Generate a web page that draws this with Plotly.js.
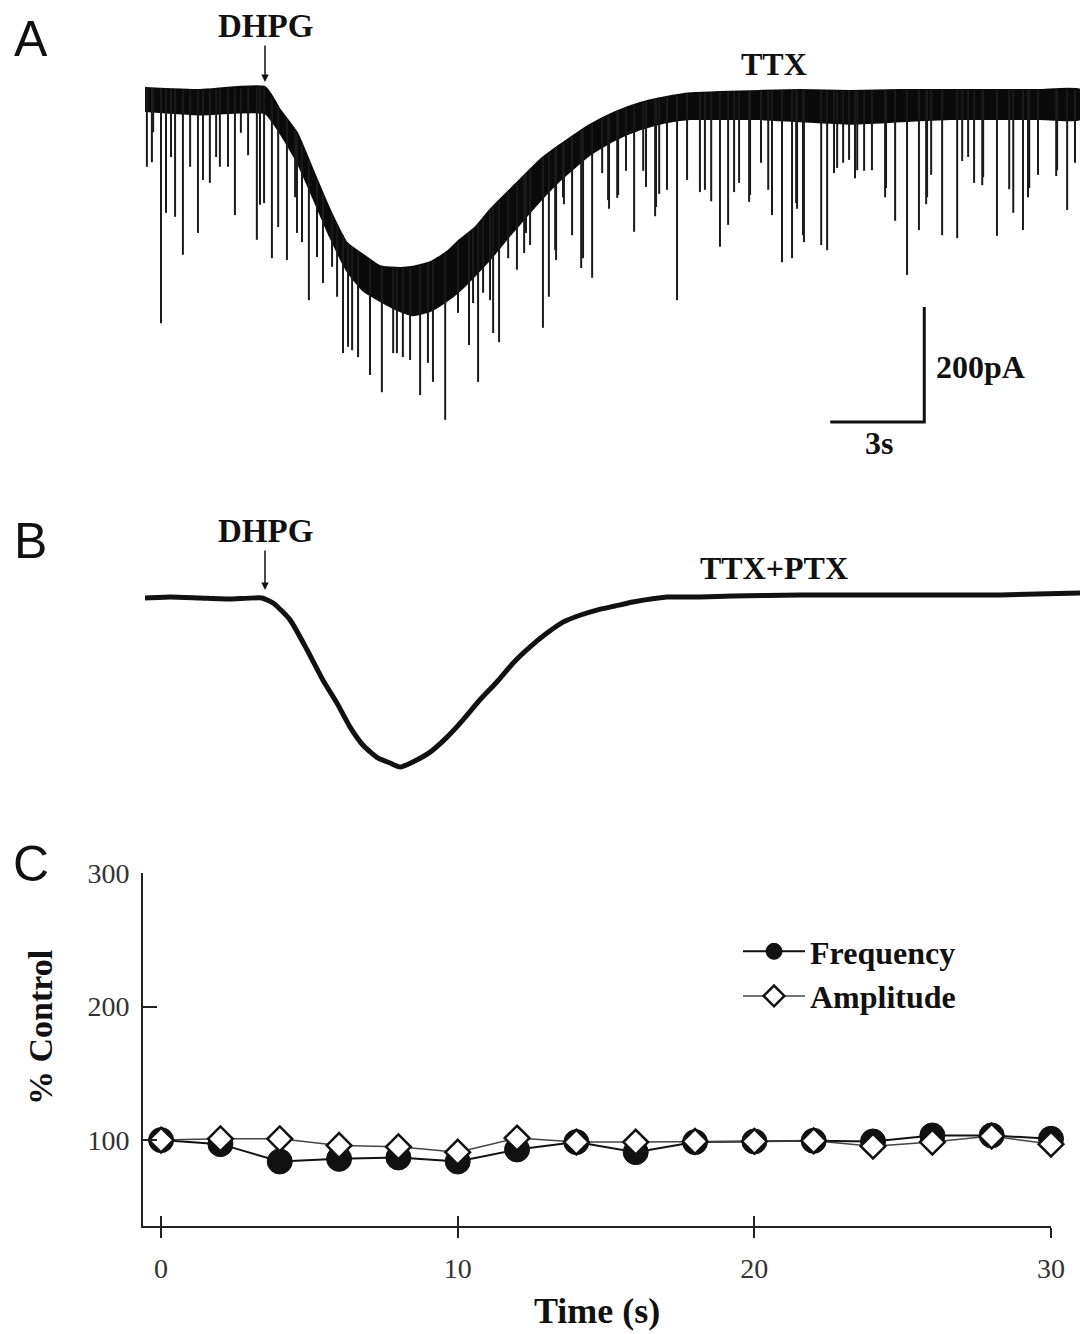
<!DOCTYPE html>
<html><head><meta charset="utf-8">
<script src="https://cdn.plot.ly/plotly-3.0.1.min.js"></script>
<style>html,body{margin:0;padding:0;background:#fff}#chart{width:1083px;height:1334px}</style>
</head><body><div id="chart"></div>
<script>
// ---------- Panel A : DHPG in TTX (time in s, current in pA, 0 = holding baseline) ----------
const envTimeA  = [0,1.76,3.83,4.31,4.85,5.36,5.90,6.45,6.96,7.50,8.14,8.55,9.10,9.64,10.05,10.53,11.01,11.65,12.61,13.25,14.20,15.00,15.80,16.60,17.40,18.35,19.63,20.91,22.50,24.10,25.69,27.29,28.57,29.84];
const envUpperA = [0,-3.5,1.7,-38,-78,-143,-212,-270,-290,-310,-313,-311,-303,-285,-264,-243,-212,-177,-125,-99,-64,-42,-26,-16,-9,-7,-5,-3.5,-5,-3.5,-3.5,-3.5,-3.5,-3.5];
const envLowerA = [-40,-46,-44,-78,-128,-190,-258,-318,-352,-370,-388,-395,-388,-370,-352,-326,-298,-256,-196,-160,-116,-90,-72,-60,-54,-54,-54,-58,-62,-58,-54,-54,-54,-54];
const eventTimeA = [0.06,0.22,0.26,0.51,0.67,0.83,0.96,1.21,1.44,1.69,1.85,2.07,2.27,2.39,2.65,2.87,3.06,3.29,3.57,3.67,3.80,4.05,4.25,4.53,4.79,4.85,5.01,5.23,5.49,5.68,5.97,6.13,6.32,6.48,6.61,6.80,7.18,7.56,7.92,8.04,8.23,8.46,8.78,9.03,9.19,9.58,9.99,10.34,10.47,10.63,10.79,11.01,11.11,11.30,11.59,11.87,12.10,12.16,12.29,12.70,12.89,13.09,13.12,13.34,13.37,13.63,13.92,13.98,14.27,14.59,14.78,14.81,15.07,15.10,15.35,15.61,15.90,15.99,16.28,16.31,16.41,16.66,16.98,17.30,17.71,17.87,18.07,18.35,18.61,18.80,18.96,19.28,19.31,19.66,19.89,20.01,20.33,20.65,20.78,20.81,21.00,21.03,21.58,21.77,21.99,22.09,22.28,22.47,22.66,22.73,22.95,23.20,23.62,23.65,23.94,24.32,24.70,24.93,24.96,25.09,25.44,25.92,26.08,26.27,26.46,26.72,26.75,27.19,27.58,27.71,28.02,28.18,28.22,28.50,29.08,29.11,29.43,29.68];
const eventPeakA = [-137,-129,-77,-409,-217,-120,-224,-290,-137,-252,-160,-165,-120,-137,-137,-221,-78,-117,-264,-203,-200,-296,-242,-299,-190,-252,-268,-369,-294,-339,-311,-363,-461,-450,-456,-468,-499,-529,-461,-461,-468,-473,-534,-478,-511,-577,-391,-447,-374,-511,-356,-369,-426,-442,-296,-316,-287,-252,-273,-417,-363,-282,-299,-190,-202,-256,-313,-296,-330,-148,-195,-210,-191,-186,-144,-250,-144,-172,-223,-207,-184,-177,-369,-160,-181,-177,-197,-276,-238,-181,-165,-198,-186,-130,-177,-221,-303,-296,-200,-210,-256,-268,-273,-282,-148,-139,-130,-125,-157,-143,-144,-143,-190,-174,-231,-325,-247,-202,-190,-151,-256,-261,-127,-120,-165,-169,-155,-257,-176,-217,-247,-190,-174,-151,-153,-143,-212,-130];
const drugTimeA = 3.83;

// ---------- Panel B : DHPG in TTX+PTX ----------
const timeB    = [0,0.80,1.76,2.71,3.73,4.09,4.63,5.17,5.68,6.13,6.54,6.96,7.40,7.82,8.14,8.55,9.10,9.64,10.15,10.69,11.23,11.75,12.29,12.83,13.34,13.88,14.42,15.00,15.57,16.66,17.71,18.77,20.91,24.10,27.29,29.84];
const currentB = [0,1.7,0,-1.7,0,-8.7,-38,-90,-143,-183,-224,-256,-277,-287,-294,-285,-268,-242,-212,-177,-146,-113,-85,-61,-42,-30,-21,-14,-7,1.7,1.7,3.5,5.2,5.2,5.2,8.7];
const drugTimeB = 3.83;

// ---------- Scale bar (shared by A and B) ----------
const scaleBarSeconds = 3;
const scaleBarPicoamps = 200;
const scaleBarCornerT = 24.87;
const scaleBarCornerI = -581;

// ---------- Panel C ----------
const timeC      = [0,2,4,6,8,10,12,14,16,18,20,22,24,26,28,30];
const frequencyC = [100,97,84,86,87,84,93,98.5,91,98.5,99,99.5,99,103.5,103.5,101];
const amplitudeC = [100,101,101,96,95,91,101.5,98.5,98.5,99,99,99.5,95.5,98.5,103,97];
const xTicksC = [0,10,20,30];
const yTicksC = [100,200,300];

function interp(xs, ys, x){
  if (x <= xs[0]) return ys[0];
  for (let i=1;i<xs.length;i++){
    if (x <= xs[i]) { const f=(x-xs[i-1])/(xs[i]-xs[i-1]); return ys[i-1]+f*(ys[i]-ys[i-1]); }
  }
  return ys[ys.length-1];
}

const spikeX = [], spikeY = [];
eventTimeA.forEach((t,i)=>{ spikeX.push(t,t,null); spikeY.push(interp(envTimeA,envUpperA,t), eventPeakA[i], null); });

const serif = 'Liberation Serif, Times New Roman, serif';
const sans = 'Liberation Sans, Arial, sans-serif';

const traces = [
  { x: envTimeA.concat(envTimeA.slice().reverse()), y: envUpperA.concat(envLowerA.slice().reverse()),
    xaxis:'x', yaxis:'y', mode:'lines', fill:'toself', fillcolor:'#0a0a0a', line:{color:'#0a0a0a', width:2, shape:'spline', smoothing:0.5},
    showlegend:false, hoverinfo:'skip' },
  { x: spikeX, y: spikeY, xaxis:'x', yaxis:'y', mode:'lines', line:{color:'#1a1a1a', width:2},
    showlegend:false, hoverinfo:'skip', connectgaps:false },
  { x: [scaleBarCornerT-scaleBarSeconds, scaleBarCornerT, scaleBarCornerT],
    y: [scaleBarCornerI, scaleBarCornerI, scaleBarCornerI+scaleBarPicoamps],
    xaxis:'x', yaxis:'y', mode:'lines', line:{color:'#111', width:3}, showlegend:false, hoverinfo:'skip', cliponaxis:false },
  { x: timeB, y: currentB, xaxis:'x2', yaxis:'y2', mode:'lines', line:{color:'#111', width:5, shape:'spline', smoothing:0.5},
    showlegend:false, hoverinfo:'skip' },
  { x: timeC, y: frequencyC, xaxis:'x3', yaxis:'y3', mode:'lines+markers', name:'<b>Frequency</b>',
    line:{color:'#111', width:2}, marker:{symbol:'circle', size:25, color:'#111', line:{color:'#111', width:1}}, cliponaxis:false },
  { x: timeC, y: amplitudeC, xaxis:'x3', yaxis:'y3', mode:'lines+markers', name:'<b>Amplitude</b>',
    line:{color:'#444', width:1.5}, marker:{symbol:'diamond', size:19, color:'#fff', line:{color:'#111', width:2.5}}, cliponaxis:false },
  { x: [], y: [], xaxis:'x4', yaxis:'y3', mode:'markers', showlegend:false, hoverinfo:'skip' }
];

const W = 1083, H = 1334;
const px = v => v / W, py = v => 1 - v / H;
const hidden = { visible:false, showgrid:false, zeroline:false };
const txt = (text, x, y, size, family, extra) => Object.assign({text, xref:'paper', yref:'paper', x:px(x), y:py(y),
  xanchor:'center', yanchor:'middle', showarrow:false, font:{family, size, color:'#111'}}, extra||{});

const layout = {
  width: W, height: H, margin:{l:0,r:0,t:0,b:0}, paper_bgcolor:'#fff', plot_bgcolor:'rgba(0,0,0,0)',
  xaxis: Object.assign({domain:[px(145),px(1080)], range:[0,29.84], anchor:'y'}, hidden),
  yaxis: Object.assign({domain:[py(440),py(60)], range:[-612.1,48.7], anchor:'x'}, hidden),
  xaxis2: Object.assign({domain:[px(145),px(1080)], range:[0,29.84], anchor:'y2'}, hidden),
  yaxis2: Object.assign({domain:[py(800),py(540)], range:[-351.3,100.9], anchor:'x2'}, hidden),
  xaxis3: { domain:[px(143),px(1051)], range:[-0.61,30], anchor:'y3', showline:true, linewidth:2, linecolor:'#222',
    ticks:'outside', ticklen:10, tickwidth:2, tickcolor:'#222', tickmode:'array', tickvals:xTicksC, ticktext:xTicksC.map(String),
    showgrid:false, zeroline:false, ticklabelstandoff:6,
    tickfont:{family:serif, size:28, color:'#333'} },
  xaxis4: { overlaying:'x3', range:[-0.61,30], anchor:'y3', showline:false, ticks:'inside', ticklen:10, tickwidth:2, tickcolor:'#222',
    tickmode:'array', tickvals:xTicksC, showticklabels:false, showgrid:false, zeroline:false },
  yaxis3: { domain:[py(1226),py(873)], range:[35.7,300], anchor:'x3', showline:true, linewidth:2, linecolor:'#222',
    ticks:'inside', ticklen:14, tickwidth:2, tickcolor:'#222', tickmode:'array', tickvals:yTicksC, ticktext:yTicksC.map(String),
    showgrid:false, zeroline:false, ticklabelstandoff:6,
    tickfont:{family:serif, size:28, color:'#333'} },
  showlegend:true,
  legend:{ x:px(738), y:py(924), xanchor:'left', yanchor:'top', bgcolor:'rgba(0,0,0,0)',
    font:{family:serif, size:32, color:'#111'}, tracegroupgap:0, itemwidth:62 },
  annotations:[
    txt('A', 31, 39, 50, sans),
    txt('B', 30, 541, 50, sans),
    txt('C', 31, 864, 50, sans),
    {text:'<b>DHPG</b>', xref:'x', yref:'y', x:drugTimeA, y:10.4, ax:0, ay:-56, showarrow:true, arrowhead:2, arrowsize:1, arrowwidth:1.5, arrowcolor:'#111', standoff:0,
      font:{family:serif, size:33, color:'#111'}},
    {text:'<b>DHPG</b>', xref:'x2', yref:'y2', x:drugTimeB, y:13.9, ax:0, ay:-59, showarrow:true, arrowhead:2, arrowsize:1, arrowwidth:1.5, arrowcolor:'#111', standoff:0,
      font:{family:serif, size:33, color:'#111'}},
    txt('<b>TTX</b>', 774, 64, 32, serif),
    txt('<b>TTX+PTX</b>', 774, 568, 32, serif),
    txt('<b>200pA</b>', 934, 367, 32, serif, {xanchor:'left'}),
    txt('<b>3s</b>', 879, 443, 32, serif),
    txt('<b>% Control</b>', 40, 1028, 34, serif, {textangle:-90}),
    txt('<b>Time (s)</b>', 597, 1311, 36, serif)
  ]
};

Plotly.newPlot('chart', traces, layout, {displayModeBar:false, staticPlot:true});
</script>
</body></html>
